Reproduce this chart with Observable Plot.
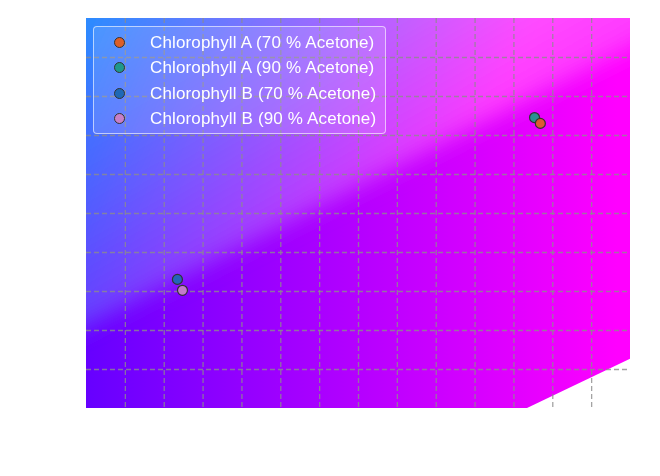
<!DOCTYPE html>
<html>
<head>
<meta charset="utf-8">
<script src="https://cdn.jsdelivr.net/npm/d3@7"></script>
<script src="https://cdn.jsdelivr.net/npm/@observablehq/plot@0.6"></script>
<style>
  html, body { margin: 0; padding: 0; background: #fff; }
  #wrap { position: relative; width: 660px; height: 476px; }
  #legend {
    position: absolute; left: 93px; top: 26px; width: 291px; height: 106px;
    border: 1px solid rgba(255,255,255,0.6); border-radius: 4px;
    background: rgba(255,255,255,0.12);
    font-family: "Liberation Sans", Arial, sans-serif; font-size: 17px; color: #fff;
  }
  .item { position: absolute; left: 0; height: 25px; line-height: 25px; white-space: nowrap; }
  .sw { position: absolute; left: 20px; top: 7px; width: 9px; height: 9px; border-radius: 50%; border: 1.2px solid #333; }
  .lab { position: absolute; left: 56px; top: 0; letter-spacing: 0.15px; }
</style>
</head>
<body>
<div id="wrap"><div id="legend"></div></div>
<script>
// ---- data ----
const seriesNames = [
  "Chlorophyll A (70 % Acetone)",
  "Chlorophyll A (90 % Acetone)",
  "Chlorophyll B (70 % Acetone)",
  "Chlorophyll B (90 % Acetone)"
];
const seriesColors = ["#dc5f28", "#1e988c", "#1f68b6", "#c77fc9"];
const pointX = [11.68, 11.53, 2.34, 2.47];
const pointY = [7.31, 7.46, 3.31, 3.03];
const drawOrder = [1, 0, 2, 3];

// filled background region (lower edge of the coloured area)
const baseX = [0, 11.35, 14];
const baseY1 = [0, 0, 1.26];
// soft diagonal boundary of the lighter upper band
const bandX = [-1, 15];
const bandY1 = [1.59, 9.74];

const xTicks = [1,2,3,4,5,6,7,8,9,10,11,12,13];
const yTicks = [1,2,3,4,5,6,7,8,9];
const xDomain = [0, 14];
const yDomain = [0, 10];
const yTop = 10;
const yTopExt = 11;

const baseData = baseX.map((x, i) => ({x, y1: baseY1[i], y2: yTop}));
const bandData = bandX.map((x, i) => ({x, y1: bandY1[i], y2: yTopExt}));
const points = drawOrder.map(i => ({name: seriesNames[i], x: pointX[i], y: pointY[i], color: seriesColors[i]}));

const gridStyle = {stroke: "#8c8c8c", strokeOpacity: 0.8, strokeWidth: 1.3, strokeDasharray: "5,3"};

const chart = Plot.plot({
  width: 660, height: 476,
  marginLeft: 86, marginRight: 30, marginTop: 18, marginBottom: 68,
  x: {domain: xDomain, axis: null},
  y: {domain: yDomain, axis: null},
  marks: [
    Plot.areaY(baseData, {x: "x", y1: "y1", y2: "y2", fill: "url(#gradBase)", curve: "linear"}),
    Plot.areaY(bandData, {x: "x", y1: "y1", y2: "y2", fill: "url(#gradR)", curve: "linear"}),
    Plot.areaY(bandData, {x: "x", y1: "y1", y2: "y2", fill: "url(#gradG)", curve: "linear"}),
    Plot.gridX(xTicks, gridStyle),
    Plot.gridY(yTicks, gridStyle),
    Plot.dot(points, {x: "x", y: "y", r: 5, fill: "color", stroke: "#333", strokeWidth: 1.2, fillOpacity: 0.95})
  ]
});

const sx = chart.scale("x"), sy = chart.scale("y");
const X0 = sx.apply(xDomain[0]), X1 = sx.apply(xDomain[1]);
const Y0 = sy.apply(yDomain[1]), Y1 = sy.apply(yDomain[0]);
const svg = d3.select(chart);
const defs = svg.insert("defs", ":first-child");

function grad(id, x1, y1, x2, y2, stops) {
  const g = defs.append("linearGradient").attr("id", id).attr("gradientUnits", "userSpaceOnUse")
    .attr("x1", x1).attr("y1", y1).attr("x2", x2).attr("y2", y2);
  stops.forEach(([o, c]) => g.append("stop").attr("offset", o).attr("stop-color", c));
}
// lower, saturated field: violet -> magenta
grad("gradBase", X0, Y0, X0 + 531, Y0, [[0, "#6600ff"], [1, "#ff00ff"]]);
// upper band: red channel field and green channel field (screen-combined)
grad("gradR", X0, Y0, X0 + 375, Y0 + 163, [[0, "rgb(42,0,255)"], [1, "rgb(255,0,255)"]]);
grad("gradG", X0, Y0, X0 + 243, Y0 + 429, [[0, "rgb(0,140,0)"], [0.3, "rgb(0,98,0)"], [0.6, "rgb(0,52,0)"], [1, "rgb(0,0,0)"]]);

const flt = defs.append("filter").attr("id", "soft").attr("filterUnits", "userSpaceOnUse")
  .attr("x", X0 - 80).attr("y", Y0 - 80).attr("width", X1 - X0 + 160).attr("height", Y1 - Y0 + 160);
flt.append("feGaussianBlur").attr("in", "SourceGraphic").attr("stdDeviation", 11);
const clip = defs.append("clipPath").attr("id", "frameClip");
clip.append("rect").attr("x", X0).attr("y", Y0).attr("width", X1 - X0).attr("height", Y1 - Y0);

svg.selectAll("g").filter(function() {
  const f = this.getAttribute("fill");
  return f === "url(#gradR)" || f === "url(#gradG)";
}).each(function() {
  const g = d3.select(this);
  const f = g.attr("fill");
  const wrap = document.createElementNS("http://www.w3.org/2000/svg", "g");
  this.parentNode.insertBefore(wrap, this);
  wrap.appendChild(this);
  d3.select(wrap).attr("clip-path", "url(#frameClip)");
  if (f === "url(#gradG)") d3.select(wrap).style("mix-blend-mode", "screen");
  g.attr("filter", "url(#soft)");
});

document.getElementById("wrap").prepend(chart);

// legend
const legend = d3.select("#legend");
seriesNames.forEach((name, i) => {
  const it = legend.append("div").attr("class", "item").style("top", (3 + i * 25.3) + "px").style("width", "100%");
  it.append("div").attr("class", "sw").style("background", seriesColors[i]);
  it.append("div").attr("class", "lab").text(name);
});
</script>
</body>
</html>
